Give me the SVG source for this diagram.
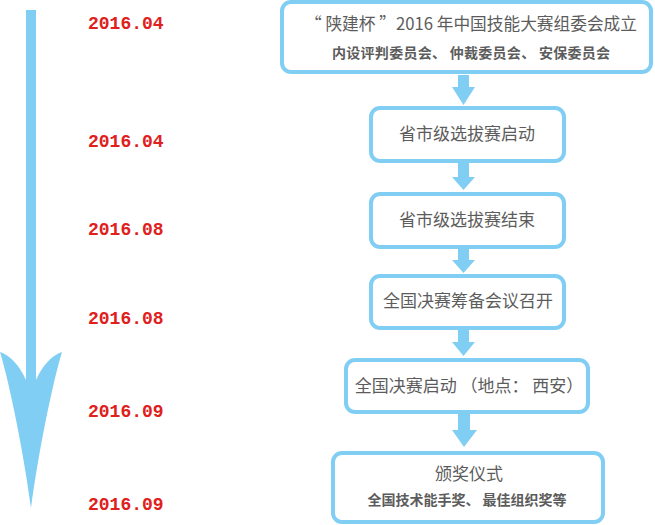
<svg xmlns="http://www.w3.org/2000/svg" width="655" height="525" viewBox="0 0 655 525">
<style>
.box{fill:#fff;stroke:#80cef3;stroke-width:4}
.arr{fill:#80cef3}
.date{font-family:"Liberation Mono",monospace;font-size:18px;font-weight:bold;fill:#e0201c}
.t{font-family:"Noto Sans CJK SC","Noto Sans",sans-serif;font-size:17px;fill:#5c5c5c;text-anchor:middle}
.s{font-family:"Noto Sans CJK SC","Noto Sans",sans-serif;font-size:14px;font-weight:bold;fill:#5c5c5c;text-anchor:middle}
</style>
<g id="timeline">
<rect class="arr" x="26" y="10" width="10" height="372"/>
<path class="arr" d="M26 380 C20 366 10 355 0 352 C10 385 24 455 31 508 C38 455 52 385 62 352 C52 355 42 366 36 380 Z"/>
</g>
<g id="dates">
<text class="date" x="88" y="29">2016.04</text>
<text class="date" x="88" y="147">2016.04</text>
<text class="date" x="88" y="235">2016.08</text>
<text class="date" x="88" y="324">2016.08</text>
<text class="date" x="88" y="417">2016.09</text>
<text class="date" x="88" y="510">2016.09</text>
</g>
<g id="connectors">
<path class="arr" d="M458 75 H469 V87 H475 L463.5 105 L452 87 H458 Z"/>
<path class="arr" d="M458 163 H469 V177 H475 L463.5 190 L452 177 H458 Z"/>
<path class="arr" d="M458 248 H469 V260 H475 L463.5 273 L452 260 H458 Z"/>
<path class="arr" d="M458 330 H469 V342 H475 L463.5 356 L452 342 H458 Z"/>
<path class="arr" d="M458 414 H470 V430 H477 L464 447 L452 430 H458 Z"/>
</g>
<g id="n1">
<rect class="box" x="282" y="2" width="369" height="70" rx="9"/>
<text class="t" x="471" y="30" textLength="332" lengthAdjust="spacingAndGlyphs">“ 陕建杯 ”2016 年中国技能大赛组委会成立</text>
<text class="s" x="471" y="58" textLength="278" lengthAdjust="spacing">内设评判委员会、 仲裁委员会、 安保委员会</text>
</g>
<g id="n2">
<rect class="box" x="371" y="108" width="193" height="53" rx="9"/>
<text class="t" x="467" y="140">省市级选拔赛启动</text>
</g>
<g id="n3">
<rect class="box" x="371" y="194" width="193" height="53" rx="9"/>
<text class="t" x="467" y="226">省市级选拔赛结束</text>
</g>
<g id="n4">
<rect class="box" x="371" y="276" width="193" height="52" rx="9"/>
<text class="t" x="468" y="307">全国决赛筹备会议召开</text>
</g>
<g id="n5">
<rect class="box" x="346" y="360" width="242" height="52" rx="9"/>
<text class="t" x="469" y="392">全国决赛启动 （地点： 西安）</text>
</g>
<g id="n6">
<rect class="box" x="333" y="453" width="270" height="69" rx="9"/>
<text class="t" x="469" y="480">颁奖仪式</text>
<text class="s" x="467" y="505">全国技术能手奖、 最佳组织奖等</text>
</g>
</svg>
